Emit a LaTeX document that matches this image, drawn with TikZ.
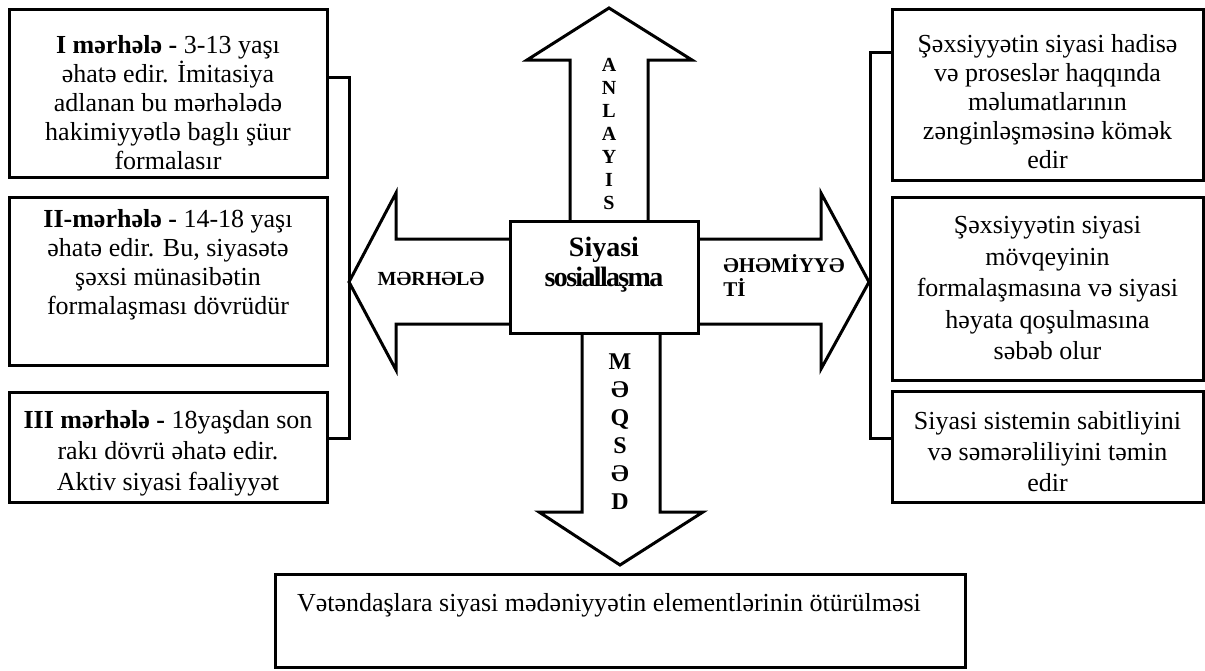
\documentclass[tikz,border=0pt]{standalone}
\usepackage{fontspec}
\setmainfont{Liberation Serif}
\tikzset{
	box/.style={draw, line width=1.5pt, align=center, inner sep=0pt, font=\fontsize{13}{15}\selectfont},
	blk/.style={draw, line width=1.5pt, fill=white},
	brace/.style={line width=1.5pt},
	lbl/.style={inner sep=0pt, font=\bfseries\fontsize{10}{12}\selectfont},
}
\begin{document}
\begin{tikzpicture}[x=0.5pt, y=-0.5pt]
	\useasboundingbox (0,0) rectangle (1205,670);
		\draw[blk] (570,221) -- (570,60) -- (527,60) -- (609,8) -- (692,60) -- (648,60) -- (648,221);
		\draw[blk] (582,333) -- (582,512) -- (539,512) -- (620,565) -- (703,512) -- (660,512) -- (660,333);
		\draw[blk] (510,239) -- (396,239) -- (396,193) -- (349,282) -- (396,370) -- (396,324) -- (510,324);
		\draw[blk] (698,239) -- (821,239) -- (821,193) -- (869,282) -- (821,369) -- (821,324) -- (698,324);
		\node[box, fill=white, minimum width=94pt, minimum height=56pt, font=\bfseries\fontsize{14}{15}\selectfont] (C) at (604,277) {Siyasi\\{\addfontfeature{LetterSpace=-6}sosiallaşma}\\~};
		\node[lbl, align=center, font=\bfseries\fontsize{10}{11.5}\selectfont] (anl) at (609,134) {A\\N\\L\\A\\Y\\I\\S};
		\node[lbl, align=center, font=\bfseries\fontsize{12}{14}\selectfont] (meq) at (620,432) {M\\Ə\\Q\\S\\Ə\\D};
		\node[lbl] (mer) at (431,279) {MƏRHƏLƏ};
		\node[lbl, align=left, anchor=west, font=\bfseries\fontsize{10.5}{12}\selectfont] (ehe) at (723,275) {ƏHƏMİYYƏ\\Tİ};
		\node[box, minimum width=159pt, minimum height=84pt, font=\fontsize{13}{14.5}\selectfont] (L1) at (168,93) {~\\[4pt]\textbf{I mərhələ -} 3-13 yaşı\\əhatə edir. İmitasiya\\adlanan bu mərhələdə\\hakimiyyətlə baglı şüur\\formalasır};
		\node[box, minimum width=159pt, minimum height=84pt, font=\fontsize{13}{14.5}\selectfont] (L2) at (168,281) {\textbf{II-mərhələ -} 14-18 yaşı\\əhatə edir. Bu, siyasətə\\şəxsi münasibətin\\formalaşması dövrüdür\\[5pt]~};
		\node[box, minimum width=159pt, minimum height=55pt, font=\fontsize{13}{15.5}\selectfont] (L3) at (168,447) {~\\[-0.5pt]\textbf{III mərhələ -} 18yaşdan son\\rakı dövrü əhatə edir.\\Aktiv siyasi fəaliyyət};
		\node[box, minimum width=155.5pt, minimum height=85.5pt, font=\fontsize{13}{14.5}\selectfont] (R1) at (1047.5,94.5) {~\\[1.5pt]Şəxsiyyətin siyasi hadisə\\və proseslər haqqında\\məlumatlarının\\zənginləşməsinə kömək\\edir};
		\node[box, minimum width=155.5pt, minimum height=91.5pt, font=\fontsize{13}{15.75}\selectfont] (R2) at (1047.5,288.5) {Şəxsiyyətin siyasi\\mövqeyinin\\formalaşmasına və siyasi\\həyata qoşulmasına\\səbəb olur};
		\node[box, minimum width=155.5pt, minimum height=55.5pt, font=\fontsize{13}{15.5}\selectfont] (R3) at (1047.5,446.5) {~\\[-1.5pt]Siyasi sistemin sabitliyini\\və səmərəliliyini təmin\\edir};
		\node[box, minimum width=345pt, minimum height=46.5pt, text width=323pt, inner xsep=11pt, align=flush left] (B) at (620,620.5) {Vətəndaşlara siyasi mədəniyyətin elementlərinin ötürülməsi\\[3.5pt]~};
		\coordinate (lt) at (349,77);
		\coordinate (lb) at (349,438);
		\coordinate (rt) at (870,52);
		\coordinate (rb) at (870,438);
		\draw[brace] (L1.east |- lt) -- (lt) -- (lb) -- (L3.east |- lb);
		\draw[brace] (R1.west |- rt) -- (rt) -- (rb) -- (R3.west |- rb);
	\end{tikzpicture}
\end{document}
